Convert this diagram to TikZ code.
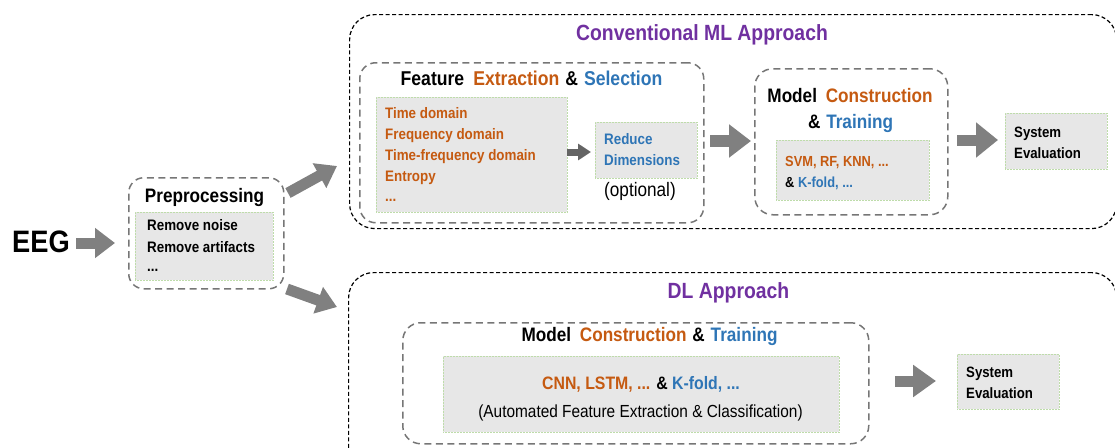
\documentclass[tikz,border=0pt]{standalone}
\usepackage{fontspec}
\setmainfont[FakeStretch=0.88]{Liberation Sans}
\usetikzlibrary{arrows.meta}
\definecolor{purp}{RGB}{112,48,160}
\definecolor{orng}{RGB}{197,90,17}
\definecolor{blu}{RGB}{46,117,182}
\definecolor{boxfill}{RGB}{231,231,231}
\definecolor{boxline}{RGB}{190,220,170}
\definecolor{dashgray}{RGB}{118,118,118}
\definecolor{arrgray}{RGB}{128,128,128}
\definecolor{arrdark}{RGB}{100,100,100}
\tikzset{
  bigbox/.style={draw=black, line width=1.2pt, dash pattern=on 4pt off 2.5pt, rounded corners=25pt, inner sep=0pt, anchor=north west},
  midbox/.style={draw=dashgray, line width=1.5pt, dash pattern=on 7pt off 4.5pt, rounded corners=16pt, inner sep=0pt, anchor=north west},
  graybox/.style={fill=boxfill, draw=boxline, line width=0.5pt, densely dotted, inner sep=0pt, anchor=north west},
  szb/.style={inner sep=0pt, text depth=0pt, text height={0.72*#1pt}, font={\fontsize{#1}{#1}\selectfont\bfseries}},
  szr/.style={inner sep=0pt, text depth=0pt, text height={0.72*#1pt}, font={\fontsize{#1}{#1}\selectfont}},
  big/.style={szb=22, text=purp},
  ttl/.style={szb=19.5},
  itm/.style={szb=15.2, anchor=west},
  blk/.style={draw=arrgray, color=arrgray, line width=11pt, -{Triangle[length=20pt,width=29pt]}},
}
\begin{document}
\begin{tikzpicture}[x=1pt,y=-1pt]
\useasboundingbox (0,0) rectangle (1115,447);

% big containers
\node[bigbox, minimum width=767pt, minimum height=214pt] (cml) at (349,14) {};
\node[bigbox, minimum width=768pt, minimum height=200pt] (dl) at (348,272) {};
\node[big] (cmltitle) at (702,33) {Conventional ML Approach};
\node[big] (dltitle) at (728.5,291) {DL Approach};

% EEG
\node[szb=31, anchor=west] (eeg) at (12,241) {EEG};

% Preprocessing
\node[midbox, rounded corners=15pt, minimum width=155pt, minimum height=111pt] (pre) at (128,177) {};
\node[ttl] (pretitle) at (204.5,195) {Preprocessing};
\node[graybox, minimum width=138pt, minimum height=68pt] (prebox) at (135,212) {};
\node[itm] (pre1) at (147,225) {Remove noise};
\node[itm] (pre2) at (147,247) {Remove artifacts};
\node[itm] (pre3) at (147,266) {...};

% Feature extraction & selection
\node[midbox, minimum width=344pt, minimum height=160pt] (feat) at (359,62) {};
\node[szb=20] (feattitle) at (531.5,78) {Feature\hspace{0.45em}\textcolor{orng}{Extraction}\hspace{0.3em}\&\hspace{0.3em}\textcolor{blu}{Selection}};
\node[graybox, minimum width=191pt, minimum height=115pt] (featbox) at (376,97) {};
\node[itm, text=orng] (f1) at (385,113) {Time domain};
\node[itm, text=orng] (f2) at (385,134) {Frequency domain};
\node[itm, text=orng] (f3) at (385,155) {Time-frequency domain};
\node[itm, text=orng] (f4) at (385,176) {Entropy};
\node[itm, text=orng] (f5) at (385,196) {...};
\node[graybox, minimum width=102pt, minimum height=56pt] (red) at (595,122) {};
\node[itm, text=blu] (red1) at (604,139) {Reduce};
\node[itm, text=blu] (red2) at (604,160) {Dimensions};
\node[szr=19.5] (opt) at (640,189) {(optional)};

% Model construction (ML)
\node[midbox, rounded corners=18pt, minimum width=193pt, minimum height=146pt] (m1) at (754,68) {};
\node[ttl] (m1title) at (850,95) {Model\hspace{0.45em}\textcolor{orng}{Construction}};
\node[ttl] (m1title2) at (850.5,121) {\&\hspace{0.3em}\textcolor{blu}{Training}};
\node[graybox, minimum width=153pt, minimum height=60pt] (m1box) at (776,140) {};
\node[szb=14.6, anchor=west, text=orng] (m1a) at (785,161) {SVM, RF, KNN, ...};
\node[szb=14.6, anchor=west] (m1b) at (785,182) {\& \textcolor{blu}{K-fold, ...}};

% System evaluation (ML)
\node[graybox, minimum width=102pt, minimum height=56pt] (sys1) at (1005,113) {};
\node[szb=15, anchor=west] (sys1a) at (1014,132) {System};
\node[szb=15, anchor=west] (sys1b) at (1014,153) {Evaluation};

% DL model construction
\node[midbox, rounded corners=18pt, minimum width=466pt, minimum height=121pt] (m2) at (402,322) {};
\node[ttl] (m2title) at (649.5,334) {Model\hspace{0.45em}\textcolor{orng}{Construction}\hspace{0.3em}\&\hspace{0.3em}\textcolor{blu}{Training}};
\node[graybox, minimum width=396pt, minimum height=76pt] (m2box) at (443,356) {};
\node[szb=18] (m2a) at (641,383) {\textcolor{orng}{CNN, LSTM, ...} \& \textcolor{blu}{K-fold, ...}};
\node[szr=17.5] (m2b) at (640.5,411) {(Automated Feature Extraction \& Classification)};

% System evaluation (DL)
\node[graybox, minimum width=102pt, minimum height=55pt] (sys2) at (957,354) {};
\node[szb=15, anchor=west] (sys2a) at (966,372) {System};
\node[szb=15, anchor=west] (sys2b) at (966,393) {Evaluation};

% arrow end points
\coordinate (a1s) at (76,243);   \coordinate (a1e) at (115,243);
\coordinate (a2s) at (288,193);  \coordinate (a2e) at (337,166);
\coordinate (a3s) at (287,289);  \coordinate (a3e) at (337,307);
\coordinate (a4s) at (567,152);  \coordinate (a4e) at (591,152);
\coordinate (a5s) at (710,141);  \coordinate (a5e) at (751,141);
\coordinate (a6s) at (957,140);  \coordinate (a6e) at (998,140);
\coordinate (a7s) at (895,381);  \coordinate (a7e) at (936,381);

\draw[blk] (a1s) -- (a1e);
\draw[blk, -{Triangle[length=20pt,width=27pt]}] (a2s) -- (a2e);
\draw[blk, -{Triangle[length=20pt,width=27pt]}] (a3s) -- (a3e);
\draw[blk, draw=arrdark, color=arrdark, line width=7pt, -{Triangle[length=13pt,width=16pt]}] (a4s) -- (a4e);
\draw[blk, line width=12pt, -{Triangle[length=22pt,width=32pt]}] (a5s) -- (a5e);
\draw[blk, -{Triangle[length=22pt,width=34pt]}] (a6s) -- (a6e);
\draw[blk, -{Triangle[length=23pt,width=31pt]}] (a7s) -- (a7e);
\end{tikzpicture}
\end{document}
